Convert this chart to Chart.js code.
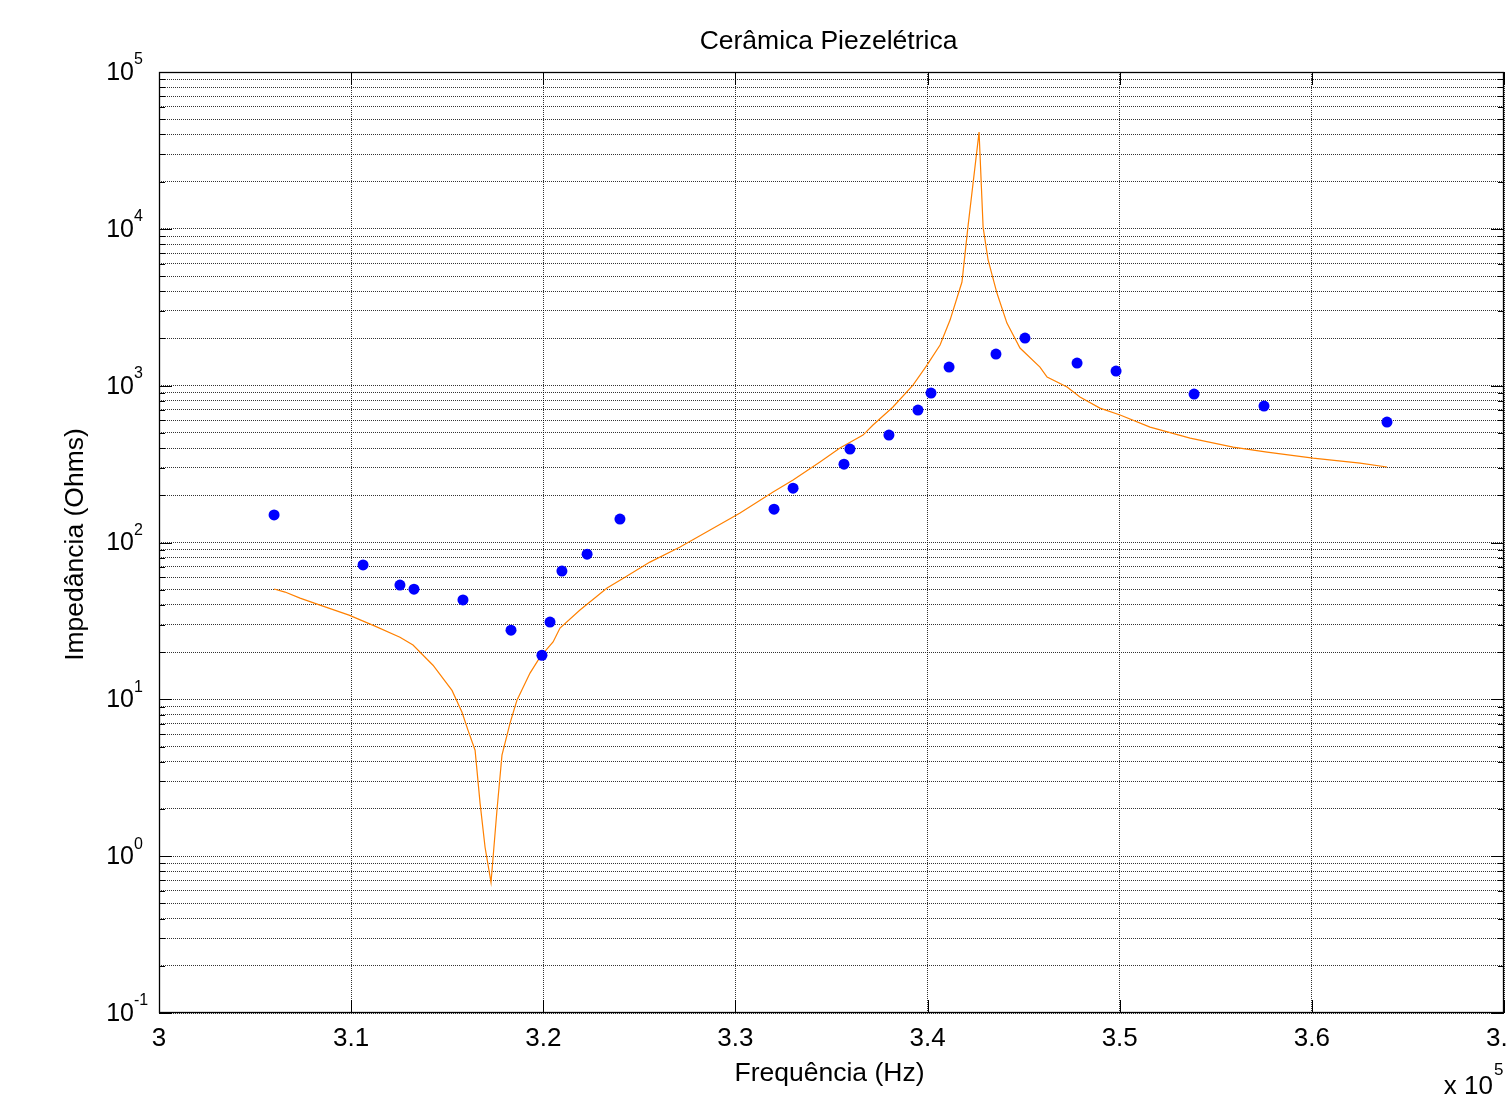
<!DOCTYPE html>
<html>
<head>
<meta charset="utf-8">
<script src="https://cdn.jsdelivr.net/npm/chart.js@4/dist/chart.umd.min.js"></script>
<style>
  html, body { margin: 0; padding: 0; background: #fff; overflow: hidden; }
  #wrap { position: absolute; left: 0; top: 0; width: 1600px; height: 1109px; }
</style>
</head>
<body>
<div id="wrap"><canvas id="c" width="1600" height="1109"></canvas></div>
<script>
// Measured impedance (blue dots), frequency in units of 10^5 Hz
const freqMeas = [3.0599, 3.1062, 3.1254, 3.1327, 3.1582, 3.1832, 3.1993, 3.2035, 3.2097, 3.2228, 3.2399,
                  3.3201, 3.3300, 3.3565, 3.3596, 3.3799, 3.3950, 3.4018, 3.4112, 3.4356, 3.4507,
                  3.4778, 3.4981, 3.5387, 3.5751, 3.6391];
const impMeas  = [150, 72, 53.5, 50.4, 43, 27.6, 19.1, 31.1, 65.7, 84.3, 141,
                  163, 222, 316, 394, 484, 699, 897, 1314, 1591, 2012,
                  1394, 1239, 884, 741, 586];

// Model curve (orange line)
const freqLine = [3.0599, 3.0656, 3.0734, 3.0838, 3.0989, 3.1124, 3.1254, 3.1322, 3.1426, 3.1525,
                  3.1577, 3.1608, 3.1645, 3.1671, 3.1697, 3.1728, 3.1759, 3.1785, 3.1827, 3.1863,
                  3.1931, 3.1983, 3.2051, 3.2087, 3.2191, 3.2332, 3.2425, 3.2555, 3.2712, 3.2868,
                  3.3024, 3.3196, 3.3300, 3.3440, 3.3544, 3.3664, 3.3716, 3.3820, 3.3924, 3.3997,
                  3.4065, 3.4117, 3.4179, 3.4210, 3.4268, 3.4289, 3.4315, 3.4361, 3.4413, 3.4481,
                  3.4585, 3.4622, 3.4726, 3.4793, 3.4897, 3.5002, 3.5158, 3.5366, 3.5590, 3.5767,
                  3.6006, 3.6251, 3.6391];
const impLine  = [50.5, 48.3, 44.2, 39.9, 34.4, 29.3, 24.9, 22.2, 16.5, 11.4,
                  8.28, 6.36, 4.74, 2.18, 1.14, 0.68, 1.97, 4.41, 7.05, 9.88,
                  14.7, 18.6, 23.2, 28.5, 37.1, 51.2, 60.1, 75.0, 93.5, 120,
                  154, 210, 250, 326, 400, 484, 561, 731, 1009, 1352,
                  1816, 2620, 4580, 10260, 41400, 10260, 6330, 3896, 2506, 1738,
                  1314, 1135, 980, 846, 719, 650, 544, 463, 406, 377,
                  345, 321, 303];

const xTickVals = [3, 3.1, 3.2, 3.3, 3.4, 3.5, 3.6, 3.7];
const yDecades  = [-1, 0, 1, 2, 3, 4, 5];
const yMinor    = [1, 2, 3, 4, 5, 6, 7, 8, 9];

const titleText = 'Cerâmica Piezelétrica';
const xLabel = 'Frequência (Hz)';
const yLabel = 'Impedância (Ohms)';

const FONT = "'Liberation Sans', Arial, Helvetica, sans-serif";

const decorPlugin = {
  id: 'decor',
  afterDraw(chart) {
    const ctx = chart.ctx;
    const a = chart.chartArea;
    const xs = chart.scales.x, ys = chart.scales.y;
    ctx.save();
    // frame
    ctx.strokeStyle = '#000';
    ctx.lineWidth = 1.3;
    ctx.setLineDash([]);
    ctx.strokeRect(a.left + 0.5, a.top + 0.5, a.right - a.left - 1, a.bottom - a.top - 1);
    // inward tick marks
    ctx.lineWidth = 1;
    ctx.beginPath();
    xTickVals.forEach(v => {
      const px = Math.round(xs.getPixelForValue(v)) + 0.5;
      ctx.moveTo(px, a.bottom); ctx.lineTo(px, a.bottom - 13);
      ctx.moveTo(px, a.top); ctx.lineTo(px, a.top + 13);
    });
    yDecades.forEach(d => {
      yMinor.forEach(m => {
        const v = m * Math.pow(10, d);
        if (v > 1e5 + 1) return;
        const py = Math.round(ys.getPixelForValue(v)) + 0.5;
        const L = (m === 1) ? 13 : 6;
        ctx.moveTo(a.left, py); ctx.lineTo(a.left + L, py);
        ctx.moveTo(a.right, py); ctx.lineTo(a.right - L, py);
      });
    });
    ctx.stroke();

    ctx.fillStyle = '#000';
    // y tick labels 10^n
    yDecades.forEach(d => {
      const py = ys.getPixelForValue(Math.pow(10, d));
      ctx.font = '25px ' + FONT;
      ctx.textAlign = 'right';
      ctx.textBaseline = 'middle';
      ctx.fillText('10', 134, py + 1);
      ctx.font = '16px ' + FONT;
      ctx.textAlign = 'left';
      ctx.fillText(String(d), 134, py - 12);
    });
    // title
    ctx.font = '26.5px ' + FONT;
    ctx.textAlign = 'center';
    ctx.textBaseline = 'middle';
    const cx = (a.left + a.right) / 2;
    ctx.fillText(titleText, cx - 3, 42);
    // x label
    ctx.fillText(xLabel, cx - 2, 1074);
    // y label
    ctx.save();
    ctx.translate(76, (a.top + a.bottom) / 2 + 2);
    ctx.rotate(-Math.PI / 2);
    ctx.fillText(yLabel, 0, 0);
    ctx.restore();
    // x 10^5
    ctx.font = '26px ' + FONT;
    ctx.textAlign = 'right';
    ctx.fillText('x 10', 1493, 1087);
    ctx.font = '17px ' + FONT;
    ctx.textAlign = 'left';
    ctx.fillText('5', 1494, 1070);
    ctx.restore();
  }
};

const gridDash = [1, 1];
const gridColor = 'rgba(0,0,0,0.8)';

new Chart(document.getElementById('c'), {
  type: 'scatter',
  data: {
    datasets: [
      {
        label: 'Medido',
        data: freqMeas.map((x, i) => ({ x: x, y: impMeas[i] })),
        pointRadius: 5.5,
        pointBackgroundColor: '#0000ff',
        pointBorderWidth: 0,
        showLine: false
      },
      {
        label: 'Modelo',
        type: 'line',
        data: freqLine.map((x, i) => ({ x: x, y: impLine[i] })),
        borderColor: '#ff8000',
        borderWidth: 1.2,
        pointRadius: 0,
        tension: 0,
        fill: false
      }
    ]
  },
  options: {
    responsive: false,
    animation: false,
    devicePixelRatio: 1,
    layout: { padding: { left: 0, top: 72, right: 96, bottom: 0 } },
    plugins: { legend: { display: false }, tooltip: { enabled: false }, title: { display: false } },
    scales: {
      x: {
        type: 'linear',
        min: 3, max: 3.7,
        afterBuildTicks: s => { s.ticks = xTickVals.map(v => ({ value: v })); },
        afterFit: s => { s.height = 96; },
        grid: { color: gridColor, lineWidth: 1, drawTicks: false },
        border: { display: false, dash: gridDash },
        ticks: {
          color: '#000',
          font: { size: 26, family: FONT },
          padding: 10,
          maxRotation: 0,
          autoSkip: false,
          callback: v => String(Math.round(v * 10) / 10)
        }
      },
      y: {
        type: 'logarithmic',
        min: 0.1, max: 1e5,
        afterBuildTicks: s => {
          const t = [];
          yDecades.forEach(d => yMinor.forEach(m => {
            const v = m * Math.pow(10, d);
            if (v <= 1e5 * 1.0001) t.push({ value: v });
          }));
          s.ticks = t;
        },
        afterFit: s => { s.width = 159; },
        grid: { color: gridColor, lineWidth: 1, drawTicks: false },
        border: { display: false, dash: gridDash },
        ticks: { display: false }
      }
    }
  },
  plugins: [decorPlugin]
});
</script>
</body>
</html>
